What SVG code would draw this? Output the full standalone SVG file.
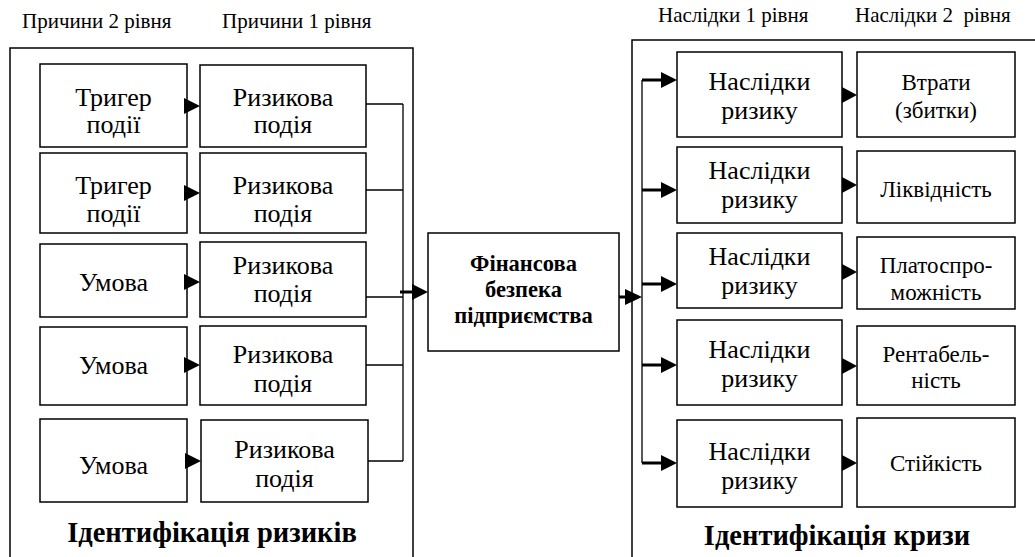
<svg xmlns="http://www.w3.org/2000/svg" width="1035" height="557" viewBox="0 0 1035 557" font-family="serif">
<defs>
<style>
text{font-family:serif}
.hdr{font-size:21px}
.b{fill:#fff;stroke:#000;stroke-width:1.5}
.o{fill:none;stroke:#000;stroke-width:1.5}
.t{font-size:26px;text-anchor:middle}
.t2{font-size:23px;text-anchor:middle}
.ctr{font-size:22.5px;font-weight:bold;text-anchor:middle}
.ttl{font-size:28.5px;font-weight:bold;text-anchor:middle}
.c{fill:none;stroke:#000;stroke-width:1.3}
.ct{fill:none;stroke:#000;stroke-width:3}
.ah{fill:#000}
</style>
</defs>
<g id="headers">
<text class="hdr" x="22" y="28">Причини 2 рівня</text>
<text class="hdr" x="222" y="28">Причини 1 рівня</text>
<text class="hdr" x="658" y="22">Наслідки 1 рівня</text>
<text class="hdr" x="855" y="22" xml:space="preserve">Наслідки 2  рівня</text>
</g>

<g id="left-frame">
<rect class="o" x="10" y="48" width="403" height="520"/>
<text class="ttl" x="212" y="542">Ідентифікація ризиків</text>
</g>
<g id="right-frame">
<rect class="o" x="632" y="40" width="420" height="530"/>
<text class="ttl" x="837" y="545">Ідентифікація кризи</text>
</g>

<g id="l1"><rect class="b" x="40" y="64" width="147" height="83"/><text class="t" x="113.5" y="106">Тригер</text><text class="t" x="113.5" y="133">події</text></g>
<g id="l2"><rect class="b" x="40" y="153" width="147" height="80"/><text class="t" x="113.5" y="194">Тригер</text><text class="t" x="113.5" y="222">події</text></g>
<g id="l3"><rect class="b" x="40" y="244" width="147" height="73"/><text class="t" x="113.5" y="291">Умова</text></g>
<g id="l4"><rect class="b" x="40" y="327" width="147" height="78"/><text class="t" x="113.5" y="374">Умова</text></g>
<g id="l5"><rect class="b" x="40" y="419" width="147" height="83"/><text class="t" x="113.5" y="474">Умова</text></g>

<g id="r1"><rect class="b" x="200" y="65" width="166" height="82"/><text class="t" x="283" y="106">Ризикова</text><text class="t" x="283" y="133">подія</text></g>
<g id="r2"><rect class="b" x="200" y="153" width="166" height="80"/><text class="t" x="283" y="194">Ризикова</text><text class="t" x="283" y="222">подія</text></g>
<g id="r3"><rect class="b" x="200" y="242" width="166" height="75"/><text class="t" x="283" y="274">Ризикова</text><text class="t" x="283" y="302">подія</text></g>
<g id="r4"><rect class="b" x="200" y="326" width="166" height="79"/><text class="t" x="283" y="363">Ризикова</text><text class="t" x="283" y="392">подія</text></g>
<g id="r5"><rect class="b" x="201" y="420" width="167" height="82"/><text class="t" x="284.5" y="458">Ризикова</text><text class="t" x="284.5" y="487">подія</text></g>

<g id="center"><rect class="b" x="428" y="233" width="191" height="118"/>
<text class="ctr" x="523.5" y="271">Фінансова</text>
<text class="ctr" x="523.5" y="297">безпека</text>
<text class="ctr" x="523.5" y="323">підприємства</text></g>

<g id="n1"><rect class="b" x="677" y="52" width="165" height="85"/><text class="t" x="759.5" y="90">Наслідки</text><text class="t" x="759.5" y="119">ризику</text></g>
<g id="n2"><rect class="b" x="677" y="147" width="165" height="76"/><text class="t" x="759.5" y="179">Наслідки</text><text class="t" x="759.5" y="208">ризику</text></g>
<g id="n3"><rect class="b" x="677" y="233" width="165" height="75"/><text class="t" x="759.5" y="265">Наслідки</text><text class="t" x="759.5" y="294">ризику</text></g>
<g id="n4"><rect class="b" x="677" y="320" width="165" height="85"/><text class="t" x="759.5" y="358">Наслідки</text><text class="t" x="759.5" y="387">ризику</text></g>
<g id="n5"><rect class="b" x="677" y="420" width="165" height="87"/><text class="t" x="759.5" y="460">Наслідки</text><text class="t" x="759.5" y="489">ризику</text></g>

<g id="s1"><rect class="b" x="857" y="52" width="158" height="85"/><text class="t2" x="936" y="90">Втрати</text><text class="t2" x="936" y="118">(збитки)</text></g>
<g id="s2"><rect class="b" x="857" y="151" width="158" height="72"/><text class="t2" x="936" y="197">Ліквідність</text></g>
<g id="s3"><rect class="b" x="857" y="237" width="158" height="72"/><text class="t2" x="936" y="273">Платоспро-</text><text class="t2" x="936" y="300">можність</text></g>
<g id="s4"><rect class="b" x="857" y="326" width="158" height="79"/><text class="t2" x="936" y="362">Рентабель-</text><text class="t2" x="936" y="388">ність</text></g>
<g id="s5"><rect class="b" x="857" y="418" width="158" height="89"/><text class="t2" x="936" y="471">Стійкість</text></g>

<g id="connectors">
<path class="c" d="M366 104H403M366 190H403M366 297H403M366 365H403M368 461H403M403 104V461M642 80V463"/>
<path class="ct" d="M400 292H414M619 297H627M642 80H663M642 190H663M642 284H663M642 365H663M642 463H663"/>
<polygon class="ah" points="412,284 428,292 412,300"/>
<polygon class="ah" points="625,289 642,297 625,305"/>
<polygon class="ah" points="661,72 677,80 661,88"/>
<polygon class="ah" points="661,182 677,190 661,198"/>
<polygon class="ah" points="661,276 677,284 661,292"/>
<polygon class="ah" points="661,357 677,365 661,373"/>
<polygon class="ah" points="661,455 677,463 661,471"/>
<polygon class="ah" points="184,98 200,106 184,114"/>
<polygon class="ah" points="184,185 200,193 184,201"/>
<polygon class="ah" points="184,274 200,282 184,290"/>
<polygon class="ah" points="184,357 200,365 184,373"/>
<polygon class="ah" points="185,453 201,461 185,469"/>
<polygon class="ah" points="842,87 857,95 842,103"/>
<polygon class="ah" points="842,177 857,185 842,193"/>
<polygon class="ah" points="842,264 857,272 842,280"/>
<polygon class="ah" points="842,358 857,366 842,374"/>
<polygon class="ah" points="842,455 857,463 842,471"/>
</g>
</svg>
